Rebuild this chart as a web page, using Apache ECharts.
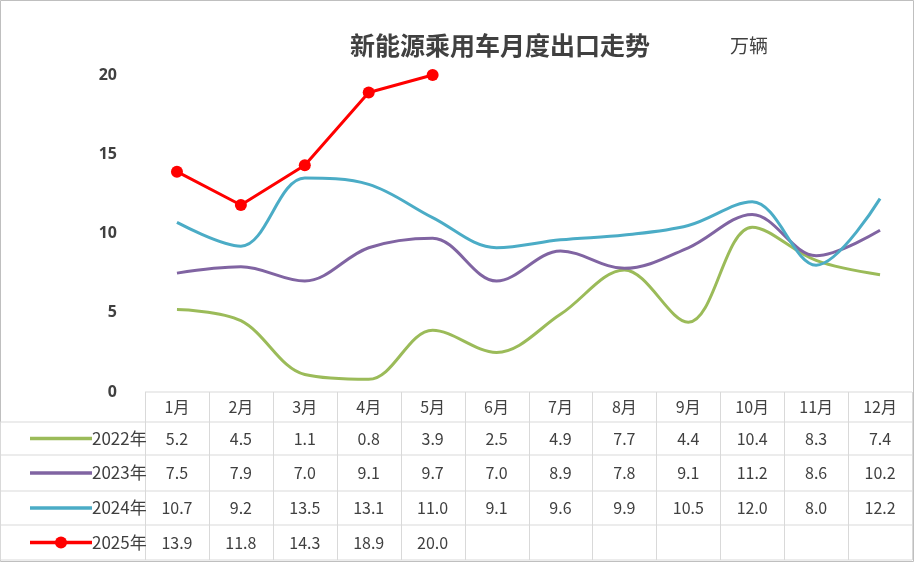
<!DOCTYPE html>
<html><head><meta charset="utf-8">
<script src="https://cdn.jsdelivr.net/npm/echarts@6/dist/echarts.min.js"></script>
<style>html,body{margin:0;padding:0;background:#fff}#chart{width:914px;height:562px}</style>
</head><body><div id="chart"></div>
<script>
var months = ['1月','2月','3月','4月','5月','6月','7月','8月','9月','10月','11月','12月'];
var names = ['2022年','2023年','2024年','2025年'];
var d2022 = [5.2,4.5,1.1,0.8,3.9,2.5,4.9,7.7,4.4,10.4,8.3,7.4];
var d2023 = [7.5,7.9,7.0,9.1,9.7,7.0,8.9,7.8,9.1,11.2,8.6,10.2];
var d2024 = [10.7,9.2,13.5,13.1,11.0,9.1,9.6,9.9,10.5,12.0,8.0,12.2];
var d2025 = [13.9,11.8,14.3,18.9,20.0];
var colors = ['#9bbb59','#8064a2','#4bacc6','#ff0000'];
var allData = [d2022,d2023,d2024,d2025];

var myChart = echarts.init(document.getElementById('chart'));
var L = 145, R = 912, T = 75, B = 392;
var colW = (R - L) / 12;
var rowH = [30, 33, 36, 34, 35];
var font = '"Noto Sans CJK SC", sans-serif';

//表格
var g = [];
g.push({type:'rect', shape:{x:0.5,y:0.5,width:913,height:561}, style:{fill:'none',stroke:'#bfbfbf',lineWidth:1}});
var y = B, ys = [B];
for (var r = 0; r < rowH.length; r++) { y += rowH[r]; ys.push(y); }
for (var r = 0; r < ys.length; r++) {
  var x0 = r === 0 ? L : 0;
  g.push({type:'line', shape:{x1:x0,y1:ys[r],x2:R,y2:ys[r]}, style:{stroke:'#d9d9d9',lineWidth:1}});
}
for (var c = 0; c <= 12; c++) {
  var cx = Math.round(L + c * colW) + 0.5;
  g.push({type:'line', shape:{x1:cx,y1:B,x2:cx,y2:ys[ys.length-1]}, style:{stroke:'#d9d9d9',lineWidth:1}});
}
g.push({type:'line', shape:{x1:0.5,y1:ys[1],x2:0.5,y2:ys[ys.length-1]}, style:{stroke:'#d9d9d9',lineWidth:1}});
for (var c = 0; c < 12; c++) {
  g.push({type:'text', x:L + (c + 0.5) * colW, y:(ys[0]+ys[1])/2,
    style:{text:months[c], fill:'#404040', font:'16px '+font, align:'center', verticalAlign:'middle'}});
}
for (var s = 0; s < 4; s++) {
  var my = (ys[s+1] + ys[s+2]) / 2;
  g.push({type:'line', shape:{x1:30,y1:my,x2:92,y2:my}, style:{stroke:colors[s],lineWidth:3.5}});
  if (s === 3) g.push({type:'circle', shape:{cx:61,cy:my,r:6}, style:{fill:colors[s]}});
  g.push({type:'text', x:92, y:my, style:{text:names[s], fill:'#404040', font:'17px '+font, verticalAlign:'middle'}});
  for (var c = 0; c < allData[s].length; c++) {
    g.push({type:'text', x:L + (c + 0.5) * colW, y:my,
      style:{text:allData[s][c].toFixed(1), fill:'#404040', font:'16px '+font, align:'center', verticalAlign:'middle'}});
  }
}
g.push({type:'text', x:500, y:45, style:{text:'新能源乘用车月度出口走势', fill:'#404040', font:'bold 25px '+font, align:'center', verticalAlign:'middle'}});
g.push({type:'text', x:730, y:46, style:{text:'万辆', fill:'#404040', font:'19px '+font, verticalAlign:'middle'}});

var series = [];
for (var s = 0; s < 4; s++) {
  series.push({
    name: names[s], type:'line', data: allData[s], smooth: s < 3 ? 0.35 : false,
    symbol: s === 3 ? 'circle' : 'none', symbolSize: 12,
    lineStyle:{color:colors[s], width:3}, itemStyle:{color:colors[s]}
  });
}

var option = {
  animation: false,
  grid: {left: L, right: 914 - R, top: T, bottom: 562 - B},
  xAxis: {type:'category', data: months, boundaryGap:true,
    axisLine:{show:false}, axisTick:{show:false}, axisLabel:{show:false}},
  yAxis: {type:'value', min:0, max:20, interval:5, splitLine:{show:false},
    axisLabel:{color:'#404040', fontSize:16, fontWeight:'bold', margin:28, fontFamily:'Noto Sans'}},
  graphic: g,
  series: series
};
myChart.setOption(option);
</script></body></html>
